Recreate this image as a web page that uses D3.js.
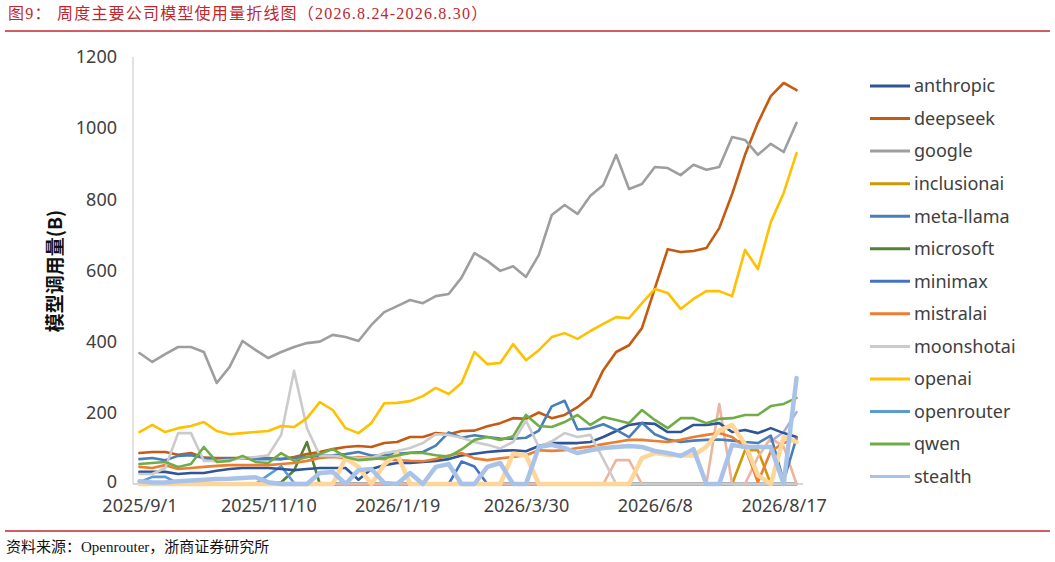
<!DOCTYPE html>
<html><head><meta charset="utf-8">
<script src="https://cdn.jsdelivr.net/npm/d3@7/dist/d3.min.js"></script>
<style>body{margin:0;background:#fff}svg{display:block}</style>
</head><body><svg id="c" width="1055" height="562"></svg>
<script>
// ---------- data ----------
const weeks = ["2025/9/1","2025/9/8","2025/9/15","2025/9/22","2025/9/29","2025/10/6","2025/10/13","2025/10/20","2025/10/27","2025/11/3",
 "2025/11/10","2025/11/17","2025/11/24","2025/12/1","2025/12/8","2025/12/15","2025/12/22","2025/12/29","2026/1/5","2026/1/12",
 "2026/1/19","2026/1/26","2026/2/2","2026/2/9","2026/2/16","2026/2/23","2026/3/2","2026/3/9","2026/3/16","2026/3/23",
 "2026/3/30","2026/4/6","2026/4/13","2026/4/20","2026/4/27","2026/5/4","2026/5/11","2026/5/18","2026/5/25","2026/6/1",
 "2026/6/8","2026/6/15","2026/6/22","2026/6/29","2026/7/6","2026/7/13","2026/7/20","2026/7/27","2026/8/3","2026/8/10",
 "2026/8/17","2026/8/24"];
const tickLabels = ["2025/9/1","2025/11/10","2026/1/19","2026/3/30","2026/6/8","2026/8/17"];
const yTicks = [0,200,400,600,800,1000,1200];

const anthropic = [34,34,34,28,31,31,37,42,45,45, 45,42,39,42,45,45,45,12,42,53, 59,59,62,65,70,80,85,90,93,95, 92,107,115,115,115,118,132,149,166,171, 169,146,146,166,166,171,146,152,143,157, 143,132];
const deepseek = [87,90,90,82,87,74,73,73,73,73, 73,70,76,84,90,98,104,107,104,115, 118,132,132,143,140,149,150,162,171,185, 183,201,185,194,216,245,320,371,390,438, 550,660,652,655,663,719,815,925,1015,1090, 1127,1107];
const google = [368,343,365,385,385,371,284,329,402,377, 354,371,385,396,400,419,413,402,447,483, 500,517,508,528,534,580,649,627,599,612, 582,644,756,784,759,810,840,925,829,843, 891,888,868,897,883,891,975,967,925,956, 933,1015];
const inclusionai = [0,0,0,0,0,0,0,0,0,0, 0,0,0,0,0,0,0,0,0,0, 0,0,0,0,0,0,0,0,0,0, 0,0,0,0,0,0,0,0,0,0, 0,0,0,0,0,0,0,95,95,0, 0,0];
const metaLlama = [70,73,67,79,81,73,67,70,73,70, 70,70,73,76,79,81,84,90,80,81, 85,88,90,108,145,130,137,132,128,127, 130,150,218,234,153,156,168,152,132,172, 140,125,118,122,124,125,122,118,115,136, 8,130];
const microsoft = [0,0,0,0,0,0,0,0,0,0, 0,5,38,118,0,0,0,0,0,0, 0,0,0,0,0,0,0,0,0,0, 0,0,0,0,0,0,0,0,0,0, 0,0,0,0,0,0,0,0,0,0, 0,0];
const minimax = [0,0,0,0,0,0,0,0,0,0, 0,0,0,0,0,0,0,0,0,0, 0,0,0,0,0,63,49,0,0,0, 0,0,0,0,0,0,0,0,0,0, 0,0,0,0,0,0,0,0,0,0, 0,0];
const mistralai = [48,45,53,42,45,48,51,53,53,53, 53,56,59,65,73,76,73,76,73,70, 67,65,64,70,80,87,72,67,72,76, 81,95,93,95,101,105,112,118,124,124, 121,118,124,132,138,143,132,104,5,92, 115,125];
const moonshotai = [28,28,45,143,143,65,65,67,73,76, 81,138,318,157,79,79,76,73,73,87, 93,101,115,140,138,130,118,110,100,118, 178,104,120,143,132,138,70,0,0,0, 0,0,0,0,0,0,0,0,0,0, 0,0];
const openai = [146,166,146,157,163,174,149,140,143,146, 149,163,160,185,230,208,157,143,171,227, 228,233,247,270,253,284,371,337,340,393, 348,376,413,424,408,430,450,469,466,508, 548,537,492,520,542,542,528,658,604,736, 818,930];
const openrouter = [5,20,20,2,0,0,0,0,0,0, 25,50,3,0,0,0,0,0,0,0, 0,0,0,0,0,0,0,0,0,0, 0,0,0,0,0,0,0,0,0,0, 0,0,0,0,0,0,0,0,0,0, 0,0];
const qwen = [56,59,62,48,56,104,62,65,79,62, 59,87,65,76,84,98,76,67,70,73, 80,87,87,81,77,97,124,132,124,134, 194,163,160,174,194,166,188,180,171,208, 180,157,185,185,171,183,185,194,194,219, 225,242];
const stealth = [8,4,4,8,10,12,14,15,17,19, 5,0,0,0,31,34,0,39,42,3, 0,31,0,48,56,0,0,48,59,0, 0,104,110,101,87,95,101,104,107,104, 93,87,79,98,0,0,110,104,104,104, 0,298];
// series beyond the (truncated) legend
const extraPeach = [0,0,0,0,0,0,0,0,0,0, 0,0,0,0,0,0,73,48,0,55, 85,0,0,0,0,0,0,0,0,85, 80,0,0,0,0,0,0,0,0,73, 87,82,80,80,105,150,166,112,25,0, 132,118];
const extraSalmon = [0,0,0,0,0,0,0,0,0,0, 0,0,0,0,0,0,0,0,0,0, 0,0,0,0,0,0,0,0,0,0, 0,0,0,0,0,0,0,67,67,0, 0,0,0,0,0,225,0,0,76,129, 105,0];
const extraLilac = [null,null,null,null,null,null,null,null,null,null, null,null,null,null,null,null,null,null,null,null, null,null,null,null,null,null,null,null,null,null, null,null,null,null,null,null,null,null,null,null, null,null,null,null,null,null,null,null,null,120, 146,202];

const legendNames = ["anthropic","deepseek","google","inclusionai","meta-llama","microsoft","minimax","mistralai","moonshotai","openai","openrouter","qwen","stealth"];
const seriesValues = {
  "anthropic":anthropic,"deepseek":deepseek,"google":google,"inclusionai":inclusionai,"meta-llama":metaLlama,
  "microsoft":microsoft,"minimax":minimax,"mistralai":mistralai,"moonshotai":moonshotai,"openai":openai,
  "openrouter":openrouter,"qwen":qwen,"stealth":stealth,"extra-peach":extraPeach,"extra-salmon":extraSalmon,"extra-lilac":extraLilac
};

// ---------- styles ----------
const colors = {
  "anthropic":"#2F5597","deepseek":"#C55A11","google":"#9E9E9E","inclusionai":"#C99A06","meta-llama":"#4A7EBB",
  "microsoft":"#548235","minimax":"#4472C4","mistralai":"#ED7D31","moonshotai":"#CBCBCB","openai":"#FFC000",
  "openrouter":"#5B9BD5","qwen":"#70AD47","stealth":"#A9C3E8","extra-peach":"#FFD699","extra-salmon":"#EDB5A0","extra-lilac":"#ACAEDD"
};
const widths = {"stealth":4.5,"extra-peach":4.5};
const drawOrder = ["inclusionai","microsoft","minimax","openrouter","extra-salmon","extra-lilac","anthropic","deepseek","google",
  "meta-llama","mistralai","moonshotai","extra-peach","openai","qwen","stealth"];

const svg = d3.select("#c");
const x = d3.scalePoint().domain(weeks).range([133,803]).padding(0.5);
const y = d3.scaleLinear().domain([0,1200]).range([484,57]);

// title
svg.append("text").attr("x",8).attr("y",19).attr("fill","#C0272D")
  .style("font-family","'Liberation Serif','Noto Sans CJK SC'").style("font-size","16px").style("letter-spacing","1.2px")
  .text("图9：");
svg.append("text").attr("x",57).attr("y",19).attr("fill","#C0272D")
  .style("font-family","'Liberation Serif','Noto Sans CJK SC'").style("font-size","16px").style("letter-spacing","1.2px")
  .text("周度主要公司模型使用量折线图（2026.8.24-2026.8.30）");
svg.append("line").attr("x1",5).attr("x2",1050).attr("y1",31).attr("y2",31).attr("stroke","#C0272D").attr("stroke-width",1.3);
svg.append("line").attr("x1",5).attr("x2",1050).attr("y1",531).attr("y2",531).attr("stroke","#C0272D").attr("stroke-width",1.3);
svg.append("text").attr("x",6).attr("y",552).attr("fill","#111")
  .style("font-family","'Liberation Serif','Noto Sans CJK SC'").style("font-size","15px")
  .text("资料来源：Openrouter，浙商证券研究所");

// axes lines
svg.append("line").attr("x1",133).attr("x2",133).attr("y1",57).attr("y2",484).attr("stroke","#D9D9D9").attr("stroke-width",1.5);
svg.append("line").attr("x1",133).attr("x2",803).attr("y1",484).attr("y2",484).attr("stroke","#C8C8C8").attr("stroke-width",1.5);

const yAxis = svg.append("g").attr("transform","translate(133,0)")
  .call(d3.axisLeft(y).tickValues(yTicks).tickSize(0).tickPadding(16).tickFormat(d3.format("d")));
yAxis.select(".domain").remove();
yAxis.selectAll("text").style("font-family","'Noto Sans'").style("font-size","18px").attr("fill","#404040");
yAxis.selectAll("text").filter(d=>d===0).attr("dy","0.22em");

const xAxis = svg.append("g").attr("transform","translate(0,484)")
  .call(d3.axisBottom(x).tickValues(tickLabels).tickSize(0).tickPadding(15));
xAxis.select(".domain").remove();
xAxis.selectAll("text").style("font-family","'Noto Sans'").style("font-size","18px").attr("fill","#404040");

svg.append("text").attr("transform","translate(62,271) rotate(-90)").attr("text-anchor","middle")
  .style("font-family","'Noto Sans CJK SC'").style("font-size","19px").style("font-weight","bold").attr("fill","#111")
  .text("模型调用量(B)");

// series
drawOrder.forEach(name=>{
  const vals = seriesValues[name];
  const pts = vals.map((v,i)=>({v,i}));
  const path = d3.line().defined(d=>d.v!=null).x(d=>x(weeks[d.i])).y(d=>y(d.v))(pts);
  svg.append("path").attr("d",path).attr("fill","none").attr("stroke",colors[name])
    .attr("stroke-width",widths[name]||2.6).attr("stroke-linejoin","round").attr("stroke-linecap","round");
});

// legend
const lg = svg.append("g");
legendNames.forEach((name,k)=>{
  const cy = 86 + k*32.55;
  lg.append("line").attr("x1",870).attr("x2",910).attr("y1",cy).attr("y2",cy).attr("stroke",colors[name]).attr("stroke-width",3);
  lg.append("text").attr("x",914).attr("y",cy).attr("dy","0.35em")
    .style("font-family","'Noto Sans'").style("font-size","18px").attr("fill","#404040").text(name);
});
</script></body></html>
